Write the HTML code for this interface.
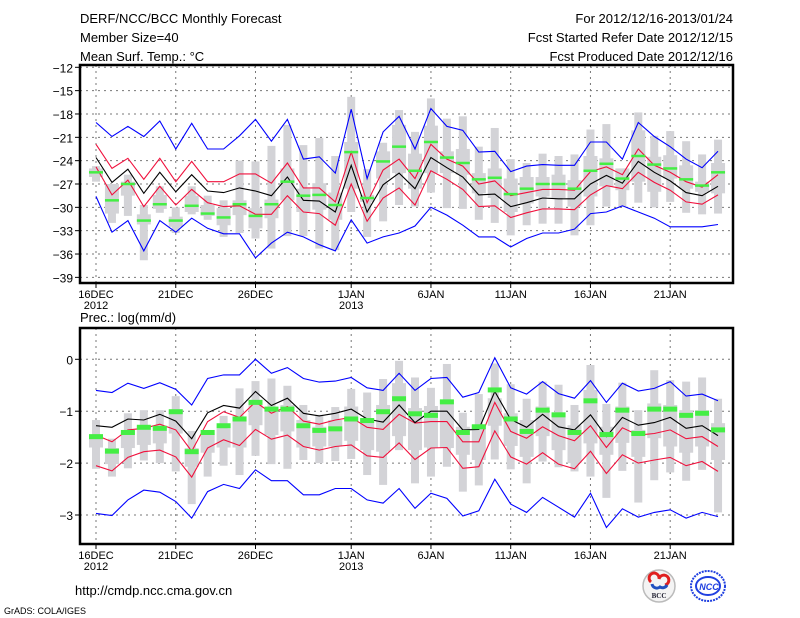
<!DOCTYPE html>
<html><head><meta charset="utf-8"><style>
body{margin:0;background:#fff;}
svg{display:block;font-family:"Liberation Sans",sans-serif;}
</style></head><body>
<svg id="c" width="800" height="618" viewBox="0 0 800 618">
<g font-size="13" fill="#000">
<text x="80" y="23">DERF/NCC/BCC Monthly Forecast</text>
<text x="80" y="42">Member Size=40</text>
<text x="80" y="61">Mean Surf. Temp.: °C</text>
<text x="733" y="23" text-anchor="end">For 2012/12/16-2013/01/24</text>
<text x="733" y="42" text-anchor="end">Fcst Started Refer Date 2012/12/15</text>
<text x="733" y="61" text-anchor="end">Fcst Produced Date 2012/12/16</text>
<text x="80" y="322">Prec.: log(mm/d)</text>
<text x="75" y="595">http://cmdp.ncc.cma.gov.cn</text>
<text x="4" y="614" font-size="9">GrADS: COLA/IGES</text>
</g>
<g>
<circle cx="659" cy="586" r="16" fill="#f4f4f4" stroke="#bbb" stroke-width="1.5"/>
<path d="M651 582 a5 5 0 1 1 8 -3 a5 5 0 1 1 6 6" fill="none" stroke="#e02020" stroke-width="3"/>
<path d="M652 584 a5 5 0 0 0 8 3 a5 5 0 0 0 7 -2" fill="none" stroke="#2050c0" stroke-width="3"/>
<text x="659" y="598" font-size="7" font-weight="bold" text-anchor="middle" fill="#223" font-family="Liberation Serif,serif">BCC</text>
</g>
<g>
<ellipse cx="708" cy="586" rx="17" ry="15" fill="none" stroke="#2040e0" stroke-width="2" stroke-dasharray="2 1"/>
<ellipse cx="708" cy="586" rx="12" ry="9" fill="none" stroke="#2040e0" stroke-width="2"/>
<text x="709" y="590" font-size="9" font-weight="bold" text-anchor="middle" fill="#2040e0" font-style="italic">NCC</text>
</g>
</svg>
<script>
const days=["16DEC","21DEC","26DEC","1JAN","6JAN","11JAN","16JAN","21JAN"];
const tickDays=[0,5,10,16,21,26,31,36];
const tMean=[-23.6,-26.8,-25.1,-28.2,-25.5,-28.0,-25.8,-27.9,-28.1,-27.5,-27.9,-28.5,-26.1,-29.1,-29.2,-30.6,-24.6,-30.6,-27.1,-25.6,-27.6,-23.6,-24.9,-26.1,-28.4,-28.3,-29.9,-29.4,-28.8,-28.9,-28.9,-27.0,-25.9,-26.9,-24.1,-25.5,-26.6,-28.1,-28.5,-27.3];
const tRedHi=[-21.9,-25.0,-23.7,-26.4,-23.7,-26.7,-24.1,-26.7,-26.7,-25.7,-25.7,-26.9,-24.3,-27.5,-27.5,-29.3,-22.9,-29.4,-25.2,-23.8,-26.3,-21.9,-23.8,-24.7,-27.0,-26.6,-28.5,-28.1,-27.7,-27.7,-27.8,-25.4,-24.8,-25.8,-22.5,-24.6,-25.5,-26.7,-27.4,-25.8];
const tRedLo=[-24.8,-28.4,-26.5,-29.9,-27.3,-29.7,-27.7,-29.4,-29.9,-29.8,-30.9,-30.9,-28.5,-30.6,-30.8,-32.3,-27.0,-31.8,-28.8,-27.5,-29.7,-25.3,-26.4,-27.7,-29.9,-29.8,-31.3,-30.7,-30.2,-30.2,-30.3,-28.4,-27.2,-27.6,-25.5,-26.8,-27.8,-29.3,-29.6,-28.4];
const tBlueHi=[-19.1,-20.9,-19.6,-20.9,-18.9,-22.5,-19.2,-22.5,-22.5,-20.8,-18.7,-21.5,-18.7,-23.8,-23.5,-25.6,-17.4,-26.3,-20.3,-18.3,-22.5,-17.3,-19.6,-20.1,-22.9,-22.8,-25.4,-24.7,-24.5,-24.6,-24.6,-21.6,-21.6,-23.8,-19.1,-20.9,-22.2,-23.8,-24.9,-22.8];
const tBlueLo=[-28.6,-33.2,-31.7,-35.6,-31.7,-33.2,-31.4,-32.7,-33.4,-33.4,-36.5,-34.6,-33.2,-33.8,-34.8,-35.6,-31.6,-34.6,-33.8,-33.3,-32.4,-30.0,-31.0,-32.3,-33.8,-33.8,-35.1,-34.0,-33.3,-33.3,-32.8,-30.8,-30.6,-29.8,-30.6,-31.4,-32.5,-32.5,-32.5,-32.2];
const tGreen=[-25.5,-29.1,-27.0,-31.7,-29.6,-31.7,-29.8,-30.8,-31.3,-29.6,-31.1,-29.6,-26.7,-28.5,-28.4,-29.7,-22.9,-28.8,-24.1,-22.2,-25.3,-21.6,-23.6,-24.3,-26.4,-26.2,-28.3,-27.6,-27.0,-27.0,-27.6,-25.3,-24.4,-26.3,-23.4,-24.5,-25.0,-26.4,-27.2,-25.5];
const tMax=[-24.7,-27.0,-25.8,-29.7,-27.3,-30.0,-27.3,-28.5,-29.1,-24.0,-24.1,-22.1,-19.4,-22.0,-21.1,-23.4,-15.8,-25.1,-21.7,-17.5,-20.3,-16.0,-18.6,-18.3,-22.2,-19.8,-23.8,-24.3,-23.1,-23.4,-23.2,-20.0,-19.3,-25.0,-17.8,-20.8,-20.2,-21.5,-23.2,-21.3];
const tQ3=[-25.0,-27.0,-26.7,-30.9,-28.4,-31.2,-28.5,-29.7,-30.1,-29.1,-30.1,-29.0,-25.0,-27.6,-26.9,-28.1,-21.6,-28.4,-22.8,-19.4,-23.1,-19.5,-22.8,-22.5,-25.6,-25.0,-26.3,-26.1,-26.1,-25.8,-26.5,-23.4,-23.7,-25.0,-20.1,-23.5,-23.3,-24.6,-26.7,-24.3];
const tQ1=[-26.1,-30.8,-28.5,-32.2,-30.2,-32.5,-30.6,-31.1,-32.3,-31.0,-32.7,-31.4,-29.1,-30.6,-30.3,-31.6,-27.6,-29.3,-26.3,-25.6,-27.6,-25.6,-25.6,-25.8,-28.2,-28.8,-30.6,-29.5,-28.6,-28.8,-29.9,-28.6,-27.3,-27.8,-26.7,-28.0,-26.3,-27.6,-28.0,-28.2];
const tMin=[-26.7,-32.0,-31.1,-36.8,-30.7,-33.3,-30.9,-31.6,-33.8,-33.3,-34.0,-35.3,-33.7,-33.7,-35.3,-35.5,-30.6,-33.8,-31.8,-29.7,-29.9,-28.1,-30.1,-30.2,-31.6,-32.0,-33.6,-32.3,-32.1,-32.1,-33.6,-32.3,-29.9,-29.9,-29.4,-30.0,-29.3,-30.7,-30.9,-30.8];
const tTicks=[-12,-15,-18,-21,-24,-27,-30,-33,-36,-39];

const pMean=[-1.28,-1.31,-1.15,-1.17,-1.06,-1.19,-1.53,-1.03,-0.89,-0.94,-0.62,-0.89,-0.75,-1.04,-1.09,-1.04,-0.96,-1.15,-1.21,-0.88,-1.22,-1.0,-1.0,-1.36,-1.35,-0.62,-1.16,-1.31,-1.06,-1.30,-1.36,-1.07,-1.49,-1.12,-1.27,-1.22,-1.12,-1.33,-1.28,-1.47];
const pRedHi=[-1.46,-1.59,-1.36,-1.33,-1.25,-1.36,-1.77,-1.20,-1.01,-1.12,-0.82,-1.04,-0.91,-1.19,-1.25,-1.17,-1.12,-1.31,-1.35,-1.06,-1.23,-1.20,-1.20,-1.59,-1.59,-0.83,-1.39,-1.52,-1.30,-1.47,-1.57,-1.28,-1.70,-1.32,-1.46,-1.43,-1.36,-1.53,-1.49,-1.68];
const pRedLo=[-2.05,-2.15,-1.89,-1.78,-1.75,-1.88,-2.27,-1.71,-1.55,-1.66,-1.35,-1.54,-1.46,-1.68,-1.75,-1.68,-1.65,-1.86,-1.89,-1.61,-1.93,-1.71,-1.70,-2.10,-2.07,-1.38,-1.88,-2.02,-1.80,-2.02,-2.11,-1.77,-2.20,-1.84,-2.00,-1.94,-1.89,-2.05,-1.97,-2.16];
const pBlueHi=[-0.60,-0.64,-0.46,-0.56,-0.45,-0.58,-0.88,-0.37,-0.30,-0.30,0,-0.27,-0.16,-0.37,-0.44,-0.42,-0.35,-0.55,-0.60,-0.27,-0.60,-0.37,-0.35,-0.73,-0.64,0.03,-0.55,-0.67,-0.43,-0.66,-0.75,-0.41,-0.83,-0.46,-0.61,-0.56,-0.43,-0.71,-0.67,-0.80];
const pBlueLo=[-2.97,-3.01,-2.71,-2.52,-2.56,-2.74,-3.06,-2.55,-2.41,-2.49,-2.13,-2.34,-2.34,-2.61,-2.61,-2.49,-2.49,-2.71,-2.77,-2.49,-2.87,-2.58,-2.68,-3.02,-2.92,-2.31,-2.79,-2.95,-2.66,-2.85,-3.04,-2.58,-3.24,-2.88,-3.04,-2.95,-2.90,-3.06,-2.95,-3.03];
const pGreen=[-1.49,-1.77,-1.41,-1.31,-1.33,-1.01,-1.78,-1.41,-1.28,-1.15,-0.83,-0.96,-0.96,-1.28,-1.37,-1.34,-1.15,-1.18,-1.01,-0.76,-1.05,-1.08,-0.82,-1.41,-1.30,-0.59,-1.15,-1.39,-0.98,-1.07,-1.41,-0.80,-1.45,-0.98,-1.43,-0.96,-0.96,-1.08,-1.04,-1.36];
const pMax=[-1.17,-1.53,-1.04,-0.98,-0.98,-0.71,-1.38,-1.38,-1.09,-0.56,-0.42,-0.37,-0.51,-0.88,-1.07,-0.92,-0.57,-0.64,-0.38,-0.03,-0.35,-0.55,-0.09,-1.03,-0.67,-0.08,-0.48,-0.76,-0.43,-0.49,-0.88,-0.11,-0.86,-0.45,-0.98,-0.21,-0.40,-0.43,-0.35,-0.76];
const pQ3=[-1.46,-1.71,-1.38,-1.28,-1.28,-0.98,-1.71,-1.43,-1.33,-1.10,-0.78,-0.94,-0.88,-1.17,-1.30,-1.17,-0.91,-1.14,-0.88,-0.46,-0.94,-0.90,-0.78,-1.30,-1.27,-0.75,-1.04,-1.17,-0.91,-1.04,-1.27,-0.59,-1.30,-0.91,-1.36,-0.85,-0.88,-0.98,-0.98,-1.23];
const pQ1=[-1.70,-2.02,-1.71,-1.65,-1.62,-1.43,-2.07,-1.80,-1.70,-1.70,-1.27,-1.46,-1.39,-1.70,-1.68,-1.68,-1.57,-1.75,-1.78,-1.48,-1.75,-1.70,-1.71,-1.84,-1.94,-1.28,-1.67,-1.88,-1.48,-1.75,-2.00,-1.62,-1.84,-1.61,-1.88,-1.52,-1.68,-1.80,-1.68,-1.94];
const pMin=[-2.11,-2.26,-2.10,-1.95,-2.00,-2.16,-2.79,-2.26,-2.05,-2.23,-1.86,-2.02,-2.11,-1.94,-2.00,-1.96,-1.92,-2.23,-2.42,-1.75,-2.39,-2.26,-2.07,-2.55,-2.43,-1.93,-2.12,-2.39,-1.97,-2.08,-2.16,-2.26,-2.67,-2.15,-2.76,-2.33,-2.18,-2.34,-2.13,-2.95];
const pTicks=[0,-1,-2,-3];

const NS="http://www.w3.org/2000/svg";
const svg=document.getElementById('c');
const X0=80,X1=733;
function xs(i){return 96+i*15.95;}
function mk(tag,attrs,parent){const e=document.createElementNS(NS,tag);for(const k in attrs)e.setAttribute(k,attrs[k]);parent.appendChild(e);return e;}

function panel(cfg){
  const g=mk('g',{},svg);
  
  
  const ys=v=>cfg.yA+(cfg.vA-v)*cfg.k;
  // grid
  cfg.ticks.forEach(t=>{
    const y=ys(t);
    const l=mk('line',{x1:X0,x2:X1,y1:y,y2:y,stroke:'#777','stroke-dasharray':'2 4','stroke-width':1},g);
    
    
    const tk=mk('line',{x1:X0-5,x2:X0,y1:y,y2:y,stroke:'#000'},g);
    
    
    const tx=mk('text',{x:X0-7,y:y+5,'text-anchor':'end','font-size':12},g);
    tx.textContent=String(t).replace('-','\u2212');
    
    
  });
  tickDays.forEach((d,j)=>{
    const x=xs(d);
    const l=mk('line',{x1:x,x2:x,y1:cfg.top,y2:cfg.bot,stroke:'#777','stroke-dasharray':'2 4'},g);
    
    
    const tk=mk('line',{x1:x,x2:x,y1:cfg.bot,y2:cfg.bot+5,stroke:'#000'},g);
    
    
    const tx=mk('text',{x:x,y:cfg.bot+15,'text-anchor':'middle','font-size':11},g);
    tx.textContent=days[j];
    
    
    if(j==0||j==3){
      const yr=mk('text',{x:x,y:cfg.bot+26,'text-anchor':'middle','font-size':11},g);
      yr.textContent=j==0?'2012':'2013';
      
      
    }
  });
  // boxes
  for(let i=0;i<cfg.max.length;i++){
    const x=xs(i);
    const w1=mk('rect',{x:x-4,y:ys(cfg.max[i]),width:8,height:Math.max(1,ys(cfg.min[i])-ys(cfg.max[i])),fill:'#d3d3d7'},g);
    
    
    const b=mk('rect',{x:x-7,y:ys(cfg.q3[i]),width:14,height:Math.max(1,ys(cfg.q1[i])-ys(cfg.q3[i])),fill:'#d3d3d7'},g);
    
    
  }
  // lines
  const series=[[cfg.blueHi,'#0000ff','upper-extreme-line'],[cfg.blueLo,'#0000ff','lower-extreme-line'],[cfg.redHi,'#f0103c','upper-spread-line'],[cfg.redLo,'#f0103c','lower-spread-line'],[cfg.mean,'#000','ensemble-mean-line']];
  series.forEach(s=>{
    const pts=s[0].map((v,i)=>xs(i).toFixed(1)+','+ys(v).toFixed(1)).join(' ');
    const p=mk('polyline',{points:pts,fill:'none',stroke:s[1],'stroke-width':1.1},g);
    
    
  });
  cfg.green.forEach((v,i)=>{
    const r=mk('rect',{x:xs(i)-7,y:ys(v)-cfg.gh/2,width:14,height:cfg.gh,fill:'#44ee44'},g);
    
    
  });
  const f=mk('rect',{x:X0,y:cfg.top,width:X1-X0,height:cfg.bot-cfg.top,fill:'none',stroke:'#000','stroke-width':2.5},g);
  
  
}
panel({name:'temperature-panel',top:65,bot:283,yA:67.3,vA:-12,k:7.78,ticks:tTicks,mean:tMean,redHi:tRedHi,redLo:tRedLo,blueHi:tBlueHi,blueLo:tBlueLo,green:tGreen,max:tMax,q3:tQ3,q1:tQ1,min:tMin,gh:2.5});
panel({name:'precipitation-panel',top:328,bot:544,yA:359.3,vA:0,k:51.9,ticks:pTicks,mean:pMean,redHi:pRedHi,redLo:pRedLo,blueHi:pBlueHi,blueLo:pBlueLo,green:pGreen,max:pMax,q3:pQ3,q1:pQ1,min:pMin,gh:5});
</script>
</body></html>
